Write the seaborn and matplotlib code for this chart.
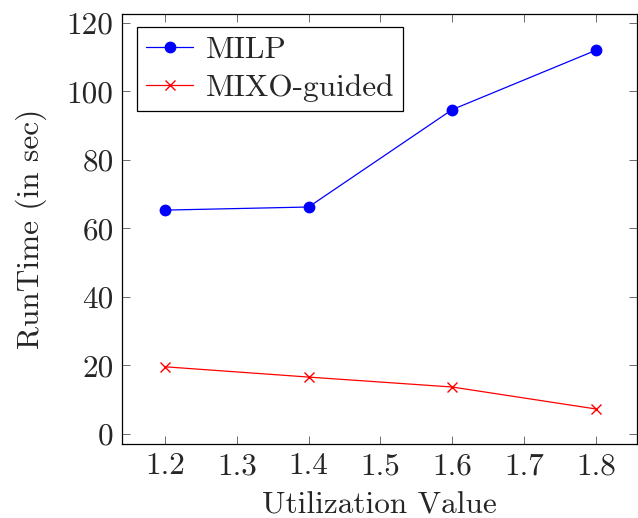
import matplotlib
matplotlib.use("Agg")
import matplotlib.pyplot as plt
import seaborn as sns

# data
utilization = [1.2, 1.4, 1.6, 1.8]
milp_runtime = [65.3, 66.2, 94.6, 111.9]
mixo_runtime = [19.6, 16.6, 13.7, 7.3]

sns.set_style("ticks")
plt.rcParams["font.family"] = ["cmr10", "DejaVu Serif"]
plt.rcParams["axes.formatter.use_mathtext"] = True
plt.rcParams["mathtext.fontset"] = "cm"

fs = 22.5

fig = plt.figure(figsize=(6.38, 5.18), dpi=100)
ax = fig.add_axes([0.191, 0.143, 0.807, 0.830])

sns.lineplot(x=utilization, y=milp_runtime, color="blue", marker="o",
             markersize=8.5, markeredgewidth=0, linewidth=0.9, label="MILP", ax=ax)
sns.lineplot(x=utilization, y=mixo_runtime, color="red", marker="x",
             markersize=6.5, markeredgewidth=1.0, markeredgecolor="red",
             linewidth=0.9, label="MIXO-guided", ax=ax)

ax.set_xlim(1.14, 1.857)
ax.set_ylim(-2.9, 122.5)
ax.set_xticks([1.2, 1.3, 1.4, 1.5, 1.6, 1.7, 1.8])
ax.set_yticks([0, 20, 40, 60, 80, 100, 120])
ax.set_xticklabels(["1.2", "1.3", "1.4", "1.5", "1.6", "1.7", "1.8"])
ax.set_yticklabels(["0", "20", "40", "60", "80", "100", "120"])
ax.tick_params(direction="in", top=True, right=True, length=6, width=0.6,
               color="#555555", labelsize=fs, pad=6)
for s in ax.spines.values():
    s.set_linewidth(0.9)
    s.set_color("black")

ax.set_xlabel("Utilization Value", fontsize=fs, labelpad=8)
ax.set_ylabel("RunTime (in sec)", fontsize=fs, labelpad=14)

leg = ax.legend(loc="upper left", fontsize=fs, frameon=True,
                fancybox=False, edgecolor="black", borderpad=0.3,
                handlelength=1.5, handletextpad=0.4, labelspacing=0.3,
                borderaxespad=0, bbox_to_anchor=(0.029, 0.97))
leg.get_frame().set_linewidth(0.9)
leg.get_frame().set_alpha(1)

fig.savefig("out.png", dpi=100)
